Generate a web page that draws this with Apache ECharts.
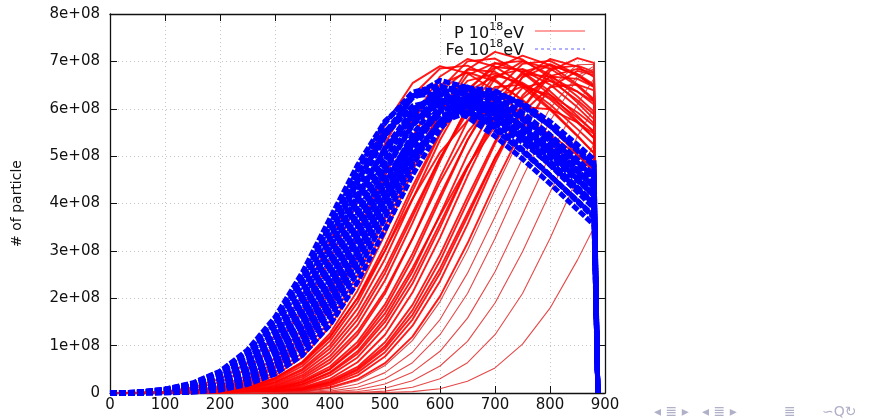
<!DOCTYPE html>
<html><head><meta charset="utf-8">
<script src="https://cdn.jsdelivr.net/npm/echarts@6/dist/echarts.min.js"></script>
<style>html,body{margin:0;padding:0;background:#fff}#c{width:873px;height:420px}</style>
</head><body><div id="c"></div>
<script>
// slant depth grid (g/cm^2); last point is ground where profiles are cut
const depth = [0,50,100,150,200,250,300,350,400,450,500,550,600,650,700,750,800,850,880,887];
// number of particles in units of 1e6
const yTickLabels = ['0','1e+08','2e+08','3e+08','4e+08','5e+08','6e+08','7e+08','8e+08'];
const xTickLabels = ['0','100','200','300','400','500','600','700','800','900'];
const legendP = 'P';
const legendFe = 'Fe';

const protonProfiles = [
[0,1,3,12,30,63,121,207,321,449,566,654,690,675,638,588,531,471,435,0],
[0,0,2,9,23,51,99,175,279,403,526,628,685,691,662,617,562,503,466,0],
[0,0,1,5,15,36,74,136,226,341,465,575,651,677,658,619,568,512,476,0],
[0,0,1,4,12,30,65,123,212,328,458,578,668,705,689,652,601,543,506,0],
[0,0,1,3,10,26,57,109,190,298,423,542,636,683,678,646,598,542,507,0],
[0,0,0,2,9,23,52,101,179,285,412,538,641,700,706,676,630,574,538,0],
[0,0,0,2,7,19,43,85,153,249,367,488,592,659,674,651,609,557,524,0],
[0,0,0,1,5,16,37,76,140,233,351,479,592,671,697,678,637,585,550,0],
[0,0,0,1,4,12,31,66,126,216,335,468,590,683,720,704,666,613,578,0],
[0,0,0,1,3,11,29,62,117,201,312,436,549,635,670,655,620,571,538,0],
[0,0,0,1,3,10,26,57,110,191,300,426,546,641,688,682,651,603,569,0],
[0,0,0,0,2,9,23,51,101,178,283,409,534,637,695,701,672,626,594,0],
[0,0,0,0,2,8,22,48,94,165,263,380,496,592,646,651,624,581,552,0],
[0,0,0,0,2,7,19,43,86,155,253,372,495,601,669,684,660,618,588,0],
[0,0,0,0,1,5,16,38,78,143,238,359,489,605,685,712,692,651,620,0],
[0,0,0,0,1,5,14,34,71,130,216,326,445,550,623,647,629,592,564,0],
[0,0,0,0,1,4,12,30,64,123,210,326,455,574,664,700,685,648,617,0],
[0,0,0,0,1,3,10,26,56,108,187,294,417,534,627,673,668,636,609,0],
[0,0,0,0,0,2,9,23,51,101,178,283,409,534,637,695,701,672,646,0],
[0,0,0,0,0,2,7,18,42,83,150,243,358,477,579,644,659,636,615,0],
[0,0,0,0,0,2,7,19,44,88,158,256,377,503,610,678,694,670,648,0],
[0,0,0,0,0,1,5,15,37,75,139,231,349,475,588,666,692,673,651,0],
[0,0,0,0,0,1,4,12,30,65,123,212,328,458,578,668,705,689,667,0],
[0,0,0,0,0,1,3,10,26,55,107,186,292,414,531,622,668,663,646,0],
[0,0,0,0,0,0,2,9,23,51,99,175,279,403,526,628,685,691,678,0],
[0,0,0,0,0,0,2,8,22,48,94,165,263,380,496,592,646,651,639,0],
[0,0,0,0,0,0,2,7,19,43,86,155,253,372,495,601,669,684,675,0],
[0,0,0,0,0,0,1,5,16,37,77,142,236,356,486,601,680,707,697,0],
[0,0,0,0,0,0,1,3,12,29,63,119,204,316,442,558,645,680,671,0],
[0,0,0,0,0,0,1,3,10,26,58,111,193,302,429,550,645,693,694,0],
[0,0,0,0,0,0,0,2,7,19,43,86,155,253,372,495,601,669,690,0],
[0,0,0,0,0,0,0,1,4,12,30,64,123,210,326,455,574,664,685,0],
[0,0,0,0,0,0,0,0,2,7,19,44,88,158,256,377,503,610,664,0],
[0,0,0,0,0,0,0,0,1,3,10,26,57,109,190,298,423,542,601,0],
[0,0,0,0,0,0,0,0,0,1,4,12,30,64,123,210,326,455,526,0],
[0,0,0,0,0,0,0,0,0,0,1,3,9,25,53,103,179,281,350,0],
[0,0,0,1,4,13,32,65,120,200,301,410,508,575,598,581,546,502,472,0],
[0,0,0,0,1,3,9,23,50,97,168,264,374,479,562,604,599,571,547,0]
];

const ironProfiles = [
[0,2,8,21,46,91,160,255,369,481,574,627,632,605,564,514,460,403,370,0],
[0,2,8,20,45,87,154,245,354,462,552,602,607,582,542,494,442,387,355,0],
[0,2,6,18,41,82,147,240,353,470,570,635,649,627,587,536,481,424,390,0],
[0,2,6,17,39,78,141,229,337,449,544,606,619,598,560,512,459,405,372,0],
[0,1,5,14,34,71,130,216,326,445,550,623,647,629,592,543,489,432,398,0],
[0,1,5,14,32,66,122,203,306,417,516,584,608,590,555,510,459,406,374,0],
[0,1,3,11,28,61,116,198,307,429,541,626,660,645,611,562,508,451,416,0],
[0,1,3,11,27,58,110,189,293,410,517,597,630,616,583,537,485,430,397,0],
[0,1,3,9,24,53,102,177,279,395,507,595,639,633,604,559,507,452,418,0],
[0,1,3,9,23,51,98,171,268,380,487,572,614,609,580,538,487,434,402,0],
[0,0,2,8,21,47,93,164,261,377,493,588,641,646,620,577,526,470,436,0],
[0,0,2,8,21,46,89,158,251,363,474,565,617,622,596,555,506,452,419,0],
[0,0,2,7,20,43,85,150,239,346,451,538,587,592,568,529,482,431,399,0],
[0,0,2,6,18,41,81,146,238,350,467,566,630,644,622,582,532,478,444,0],
[0,0,2,6,17,38,77,138,225,331,442,536,596,609,589,551,504,452,420,0],
[0,0,1,5,14,34,70,129,215,324,441,546,618,642,624,587,539,486,452,0],
[0,0,1,5,14,33,67,124,206,311,424,525,594,618,600,564,518,467,434,0],
[0,0,1,4,13,31,65,119,198,299,407,503,570,593,576,541,497,448,417,0],
[0,0,1,3,11,28,59,112,192,298,416,525,607,640,626,592,545,493,460,0],
[0,0,1,3,10,26,56,106,182,281,393,496,574,605,592,560,515,466,434,0],
[0,0,1,3,9,25,53,103,179,281,398,511,599,644,638,608,564,511,478,0],
[0,0,1,3,9,23,51,98,171,268,380,487,572,614,609,580,538,487,456,0],
[0,0,0,2,8,21,46,91,160,255,369,481,574,627,632,605,564,514,482,0],
[0,0,0,2,6,18,40,80,144,234,345,460,557,620,634,612,573,524,493,0]
];

const FONT = 'DejaVu Sans';
const chart = echarts.init(document.getElementById('c'), null, {renderer: 'canvas'});

function makeSeries(profiles, name, styleFor) {
  return profiles.map(p => ({
    type: 'line', name: name, xAxisIndex: 0, yAxisIndex: 0,
    data: p.map((v, i) => [depth[i], v]),
    symbol: 'none', showSymbol: false, silent: true,
    smooth: false,
    lineStyle: styleFor(p)
  }));
}

// profiles that have not reached their maximum before the ground are drawn thin
function protonStyle(p) {
  const peakIdx = p.indexOf(Math.max.apply(null, p));
  const unpeaked = peakIdx >= p.length - 2;
  return unpeaked
    ? {color: 'rgba(225,40,40,0.85)', width: 1.1, join: 'round'}
    : {color: 'rgba(255,0,0,0.9)', width: 1.9, join: 'round'};
}
function ironStyle() {
  return {color: '#0000ff', width: 5, type: [7, 2], join: 'round'};
}

const series = [].concat(
  makeSeries(protonProfiles, legendP, protonStyle),
  makeSeries(ironProfiles, legendFe, ironStyle)
);

const axisCommon = {
  axisLine: {show: true, onZero: false, lineStyle: {color: '#111', width: 1.3}},
  axisTick: {show: true, inside: true, length: 7, lineStyle: {color: '#111', width: 1}}
};

const richStyle = {
  n: {fontFamily: FONT, fontSize: 16, fill: '#111', lineHeight: 20, verticalAlign: 'bottom'},
  s: {fontFamily: FONT, fontSize: 11, fill: '#111', lineHeight: 20, verticalAlign: 'top'}
};

const navStyle = {fontSize: 14, fontFamily: FONT, fill: '#b0b0c8', verticalAlign: 'middle'};

const option = {
  animation: false,
  backgroundColor: '#fff',
  grid: {left: 110, right: 268, top: 14, bottom: 27, containLabel: false},
  xAxis: [
    Object.assign({
      type: 'value', min: 0, max: 900, interval: 100, position: 'bottom',
      axisLabel: {margin: 5, color: '#111', fontFamily: FONT, fontSize: 15,
        formatter: v => xTickLabels[Math.round(v / 100)]},
      splitLine: {show: true, lineStyle: {color: '#c4c4c4', type: [1, 3], width: 1}}
    }, axisCommon),
    Object.assign({
      type: 'value', min: 0, max: 900, interval: 100, position: 'top',
      axisLabel: {show: false}, splitLine: {show: false}
    }, axisCommon)
  ],
  yAxis: [
    Object.assign({
      type: 'value', min: 0, max: 800, interval: 100, position: 'left',
      name: '# of particle', nameLocation: 'middle', nameGap: 86, nameRotate: 90,
      nameTextStyle: {color: '#111', fontFamily: FONT, fontSize: 14},
      axisLabel: {margin: 10, color: '#111', fontFamily: FONT, fontSize: 15,
        formatter: v => yTickLabels[Math.round(v / 100)]},
      splitLine: {show: true, lineStyle: {color: '#c4c4c4', type: [1, 3], width: 1}}
    }, axisCommon),
    Object.assign({
      type: 'value', min: 0, max: 800, interval: 100, position: 'right',
      axisLabel: {show: false}, splitLine: {show: false}
    }, axisCommon)
  ],
  series: series,
  graphic: [
    {type: 'text', z: 101, style: {text: '{n|P 10}{s|18}{n|eV}', x: 524, y: 32,
      align: 'right', verticalAlign: 'middle', rich: richStyle}},
    {type: 'text', z: 101, style: {text: '{n|Fe 10}{s|18}{n|eV}', x: 524, y: 49,
      align: 'right', verticalAlign: 'middle', rich: richStyle}},
    {type: 'line', z: 101, shape: {x1: 535, y1: 31, x2: 585, y2: 31}, style: {stroke: '#ff4040', lineWidth: 1}},
    {type: 'line', z: 101, shape: {x1: 535, y1: 49, x2: 585, y2: 49}, style: {stroke: '#6060ff', lineWidth: 1, lineDash: [3, 3]}},
    {type: 'text', style: Object.assign({text: '◂ ≣ ▸', x: 654, y: 412}, navStyle)},
    {type: 'text', style: Object.assign({text: '◂ ≣ ▸', x: 702, y: 412}, navStyle)},
    {type: 'text', style: Object.assign({text: '≣', x: 784, y: 412}, navStyle)},
    {type: 'text', style: Object.assign({text: '∽Q↻', x: 822, y: 412}, navStyle)}
  ]
};
chart.setOption(option);
</script>
</body></html>
